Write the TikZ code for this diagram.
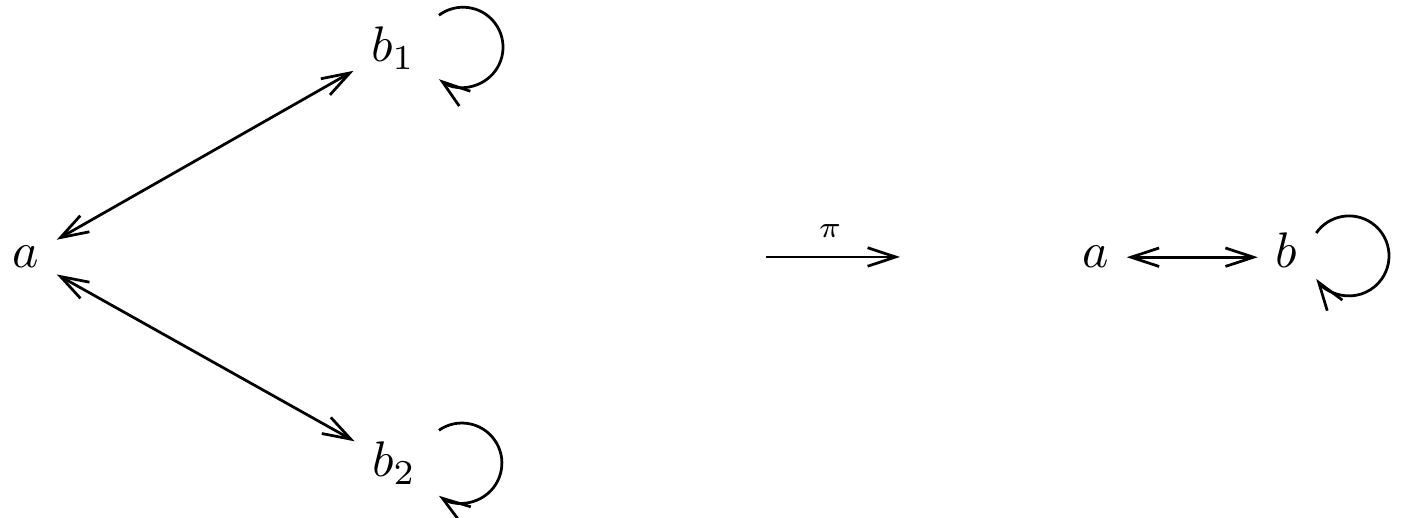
\documentclass[tikz,border=0pt]{standalone}
\usetikzlibrary{arrows.meta}

\begin{document}
\begin{tikzpicture}[
  x=2pt, y=2pt,
  every node/.style={inner sep=3.3pt, anchor=base},
  barb/.style={line width=0.55pt},
  arr/.style ={barb, -{Straight Barb[length=5.6pt,width=3.7pt]}},
  dbl/.style ={barb, {Straight Barb[length=5.6pt,width=3.7pt]}-{Straight Barb[length=5.6pt,width=3.7pt]}}]

% a loop from the upper right of a node back to its lower right
\newcommand{\selfloop}[4]{%
  \draw[arr] ([xshift=#2]#1.#3) arc[start angle=#4, end angle=-#4, radius=4];}

\useasboundingbox (0,0) rectangle (140.2,51.8);

% ===========================  the cover  =============================
\node (a)  at (2.6,25.0)  {$a$};
\node (b1) at (39.3,45.6) {$b_1$};
\node (b2) at (39.4,4.1)  {$b_2$};

\draw[dbl] (a) -- (b1);
\draw[dbl] (a) -- (b2);
\selfloop{b1}{1.3pt}{40}{127}
\selfloop{b2}{1.1pt}{40}{125}

% ===========================  the map  ===============================
\coordinate (piL) at (76.6,26.1);
\coordinate (piR) at (90.0,26.1);
\draw[arr] (piL) -- (piR);
\node[font=\fontsize{6pt}{7pt}\selectfont] (pi) at (83.0,28.0) {$\pi$};

% ===========================  the base  ==============================
\node (aa) at (109.6,25.0) {$a$};
\node (bb) at (128.6,25.0) {$b$};

\draw[dbl] (aa) -- (aa -| bb.west);
\selfloop{bb}{0.4pt}{32}{145}

\end{tikzpicture}
\end{document}
